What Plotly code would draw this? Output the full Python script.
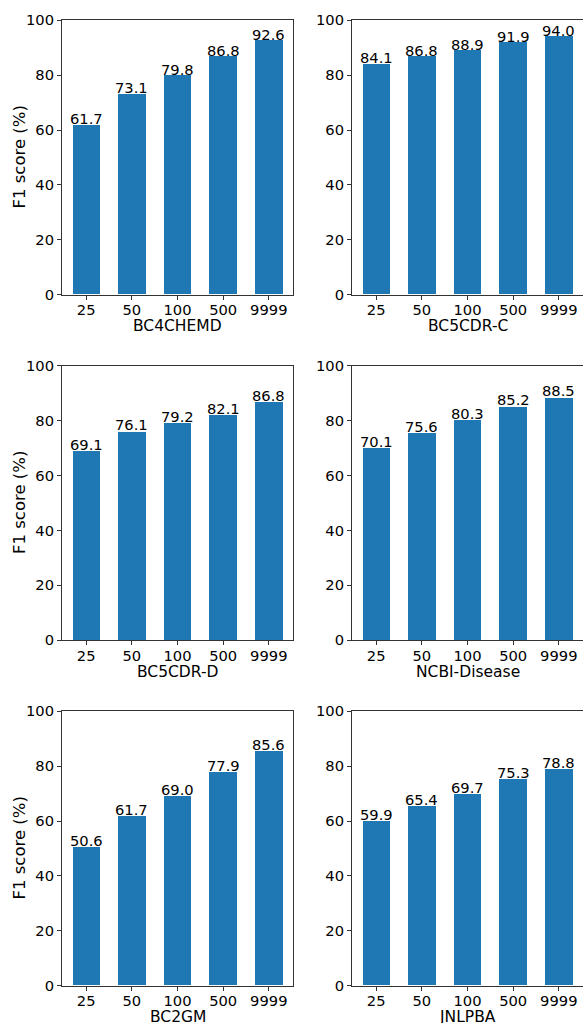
import plotly.graph_objects as go

categories = ["25", "50", "100", "500", "9999"]
datasets = ["BC4CHEMD", "BC5CDR-C", "BC5CDR-D", "NCBI-Disease", "BC2GM", "JNLPBA"]
bc4chemd = [61.7, 73.1, 79.8, 86.8, 92.6]
bc5cdr_c = [84.1, 86.8, 88.9, 91.9, 94.0]
bc5cdr_d = [69.1, 76.1, 79.2, 82.1, 86.8]
ncbi_disease = [70.1, 75.6, 80.3, 85.2, 88.5]
bc2gm = [50.6, 61.7, 69.0, 77.9, 85.6]
jnlpba = [59.9, 65.4, 69.7, 75.3, 78.8]
series = [bc4chemd, bc5cdr_c, bc5cdr_d, ncbi_disease, bc2gm, jnlpba]
y_ticks = [0, 20, 40, 60, 80, 100]
y_title = "F1 score (%)"

W, H = 583, 1023
col_px = [(62, 293), (352, 583)]
row_px = [(20.3, 294.7), (365.8, 640.2), (711.3, 985.7)]

FONT = "DejaVu Sans"
BAR = "#1f77b4"
SPINE = "#333333"
TICK_SIZE = 14.7
LABEL_SIZE = 14.7
XTITLE_SIZE = 15.5
YTITLE_SIZE = 16.5

fig = go.Figure()
xpos = list(range(len(categories)))

for i, (name, vals) in enumerate(zip(datasets, series)):
    r, c = divmod(i, 2)
    ax = "" if i == 0 else str(i + 1)
    xdom = [col_px[c][0] / W, col_px[c][1] / W]
    ydom = [1 - row_px[r][1] / H, 1 - row_px[r][0] / H]
    fig.add_trace(go.Bar(
        x=xpos, y=vals, width=0.6,
        marker=dict(color=BAR, line=dict(width=0)),
        xaxis="x" + ax, yaxis="y" + ax, showlegend=False, hoverinfo="skip",
    ))
    for xv, v in zip(xpos, vals):
        fig.add_annotation(
            x=xv, y=v, xref="x" + ax, yref="y" + ax,
            text=f"{v:.1f}", showarrow=False,
            xanchor="center", yanchor="bottom", yshift=-4,
            font=dict(family=FONT, size=LABEL_SIZE, color="black"),
        )
    # x-axis title
    fig.add_annotation(
        x=0.5, y=0, xref=f"x{ax} domain", yref=f"y{ax} domain",
        text=name, showarrow=False, xanchor="center", yanchor="top", yshift=-20.5,
        font=dict(family=FONT, size=XTITLE_SIZE, color="black"),
    )
    if c == 0:
        fig.add_annotation(
            x=19 / W, y=0.5, xref="paper", yref=f"y{ax} domain",
            text=y_title, showarrow=False, textangle=-90,
            xanchor="center", yanchor="middle",
            font=dict(family=FONT, size=YTITLE_SIZE, color="black"),
        )
    fig.layout["xaxis" + ax] = dict(
        domain=xdom, anchor="y" + ax, range=[-0.53, 4.53],
        tickvals=xpos, ticktext=categories, automargin=False,
        ticks="outside", ticklen=4, tickcolor=SPINE, tickwidth=1,
        ticklabelstandoff=-2,
        showline=True, linecolor=SPINE, linewidth=1, mirror=True,
        showgrid=False, zeroline=False,
        tickfont=dict(family=FONT, size=TICK_SIZE, color="black"),
        fixedrange=True,
    )
    fig.layout["yaxis" + ax] = dict(
        domain=ydom, anchor="x" + ax, range=[0, 100],
        tickvals=y_ticks, automargin=False,
        ticks="outside", ticklen=4, tickcolor=SPINE, tickwidth=1,
        showline=True, linecolor=SPINE, linewidth=1, mirror=True,
        showgrid=False, zeroline=False,
        tickfont=dict(family=FONT, size=TICK_SIZE, color="black"),
        fixedrange=True,
    )

fig.update_layout(
    width=W, height=H,
    margin=dict(l=0, r=0, t=0, b=0, autoexpand=False),
    paper_bgcolor="white", plot_bgcolor="white",
    bargap=0,
)
fig.write_html(
    "out.html",
    config={"displayModeBar": False},
    post_script="document.body.style.margin='0';document.body.style.overflow='hidden';"
                "document.documentElement.style.overflow='hidden';",
)
